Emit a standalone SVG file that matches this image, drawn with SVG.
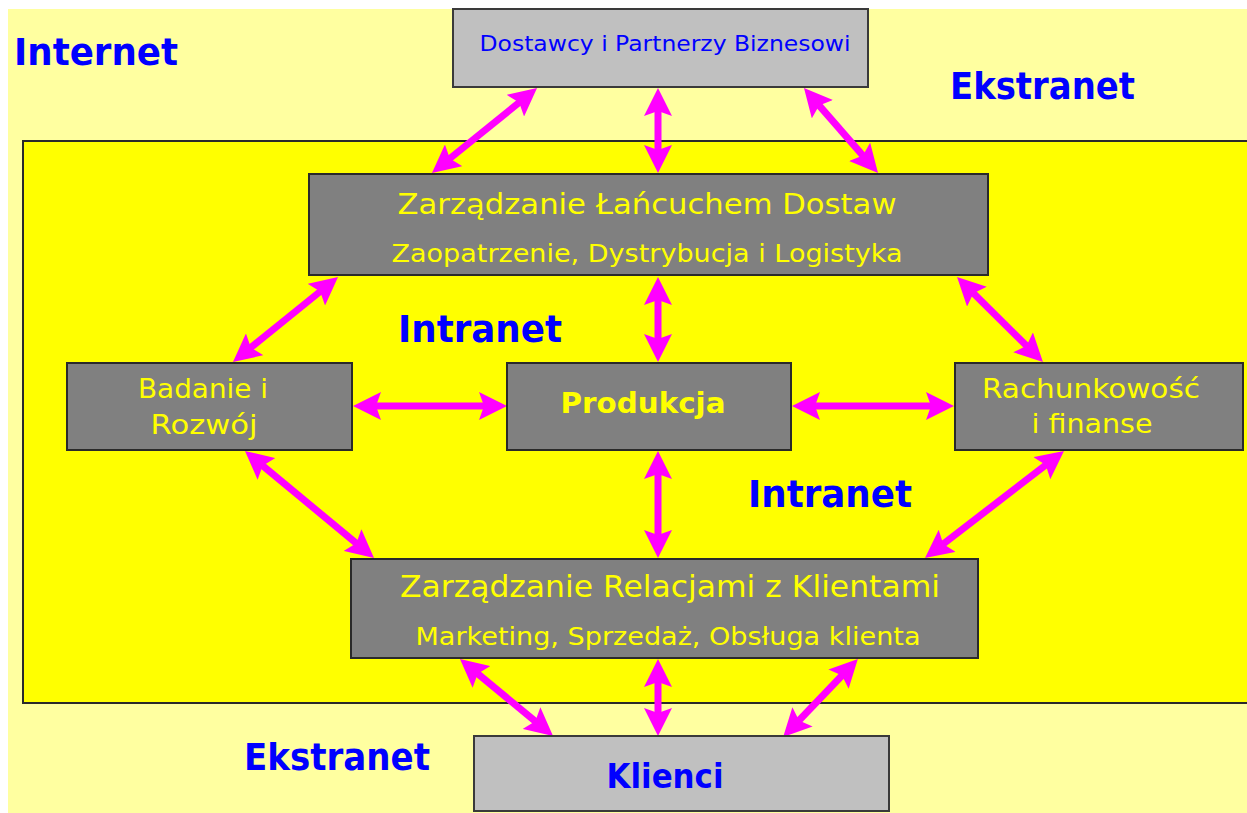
<svg xmlns="http://www.w3.org/2000/svg" width="1247" height="813" viewBox="0 0 1247 813">
<style>
.box{fill:#808080;stroke:#2a2a2a;stroke-width:2}
.ext{fill:#c0c0c0;stroke:#3a3a3a;stroke-width:2}
.t{font-family:"DejaVu Sans",Verdana,sans-serif;fill:#ffff00;text-anchor:middle}
.bt{font-family:"DejaVu Sans",Verdana,sans-serif;fill:#0000ff;font-weight:bold;font-size:38px}
.et{font-family:"DejaVu Sans",Verdana,sans-serif;fill:#0000ff;text-anchor:middle}
.arr{stroke:#ff00ff;stroke-width:7;fill:none;marker-start:url(#ah);marker-end:url(#ah)}
</style>
<defs>
<marker id="ah" markerUnits="userSpaceOnUse" markerWidth="28" markerHeight="28" viewBox="0 0 28 28" refX="12" refY="14" orient="auto-start-reverse">
<path d="M0,0 L28,14 L0,28 L5,14 Z" fill="#ff00ff"/>
</marker>
</defs>
<rect x="0" y="0" width="1247" height="813" fill="#ffffff"/>
<rect x="8" y="9" width="1239" height="804" fill="#ffffa0"/>
<rect id="intranet-area" x="23" y="141" width="1230" height="562" fill="#ffff00" stroke="#2a2a2a" stroke-width="2"/>

<g id="labels">
<text class="bt" x="14" y="65" textLength="164" lengthAdjust="spacingAndGlyphs">Internet</text>
<text class="bt" x="950" y="99" textLength="185" lengthAdjust="spacingAndGlyphs">Ekstranet</text>
<text class="bt" x="398" y="342" textLength="164" lengthAdjust="spacingAndGlyphs">Intranet</text>
<text class="bt" x="748" y="507" textLength="164" lengthAdjust="spacingAndGlyphs">Intranet</text>
<text class="bt" x="244" y="770" textLength="186" lengthAdjust="spacingAndGlyphs">Ekstranet</text>
</g>

<g id="connectors">
<line class="arr" x1="524.6" y1="98.1" x2="444.4" y2="162.9"/>
<line class="arr" x1="658" y1="104" x2="658" y2="157"/>
<line class="arr" x1="814.5" y1="100.1" x2="867.5" y2="160.9"/>
<line class="arr" x1="325.6" y1="287.1" x2="245.4" y2="351.9"/>
<line class="arr" x1="658" y1="293" x2="658" y2="346"/>
<line class="arr" x1="968.4" y1="288.2" x2="1031.6" y2="350.8"/>
<line class="arr" x1="369" y1="406" x2="491" y2="406"/>
<line class="arr" x1="808" y1="406" x2="938" y2="406"/>
<line class="arr" x1="257.3" y1="461.2" x2="361.7" y2="547.8"/>
<line class="arr" x1="658" y1="467" x2="658" y2="542"/>
<line class="arr" x1="1051.3" y1="460.8" x2="937.7" y2="548.2"/>
<line class="arr" x1="472.3" y1="669.2" x2="540.7" y2="725.8"/>
<line class="arr" x1="658" y1="675" x2="658" y2="720"/>
<line class="arr" x1="846.8" y1="670.5" x2="794.2" y2="725.5"/>
</g>

<g id="dostawcy">
<rect class="ext" x="453" y="9" width="415" height="78"/>
<text class="et" x="665" y="51" font-size="22" textLength="371" lengthAdjust="spacingAndGlyphs">Dostawcy i Partnerzy Biznesowi</text>
</g>

<g id="scm">
<rect class="box" x="309" y="174" width="679" height="101"/>
<text class="t" x="647" y="214" font-size="29" textLength="499" lengthAdjust="spacingAndGlyphs">Zarządzanie Łańcuchem Dostaw</text>
<text class="t" x="647" y="262" font-size="25" textLength="511" lengthAdjust="spacingAndGlyphs">Zaopatrzenie, Dystrybucja i Logistyka</text>
</g>

<g id="badanie">
<rect class="box" x="67" y="363" width="285" height="87"/>
<text class="t" x="203" y="398" font-size="26" textLength="130" lengthAdjust="spacingAndGlyphs">Badanie i</text>
<text class="t" x="204" y="434" font-size="26" textLength="107" lengthAdjust="spacingAndGlyphs">Rozwój</text>
</g>

<g id="produkcja">
<rect class="box" x="507" y="363" width="284" height="87"/>
<text class="t" x="643" y="413" font-size="28" font-weight="bold" textLength="165" lengthAdjust="spacingAndGlyphs">Produkcja</text>
</g>

<g id="rachunkowosc">
<rect class="box" x="955" y="363" width="288" height="87"/>
<text class="t" x="1091" y="398" font-size="26" textLength="218" lengthAdjust="spacingAndGlyphs">Rachunkowość</text>
<text class="t" x="1092" y="433" font-size="26" textLength="121" lengthAdjust="spacingAndGlyphs">i finanse</text>
</g>

<g id="crm">
<rect class="box" x="351" y="559" width="627" height="99"/>
<text class="t" x="670" y="597" font-size="30" textLength="540" lengthAdjust="spacingAndGlyphs">Zarządzanie Relacjami z Klientami</text>
<text class="t" x="668" y="645" font-size="25" textLength="505" lengthAdjust="spacingAndGlyphs">Marketing, Sprzedaż, Obsługa klienta</text>
</g>

<g id="klienci">
<rect class="ext" x="474" y="736" width="415" height="75"/>
<text class="et" x="665" y="788" font-size="34" font-weight="bold" textLength="117" lengthAdjust="spacingAndGlyphs">Klienci</text>
</g>
</svg>
